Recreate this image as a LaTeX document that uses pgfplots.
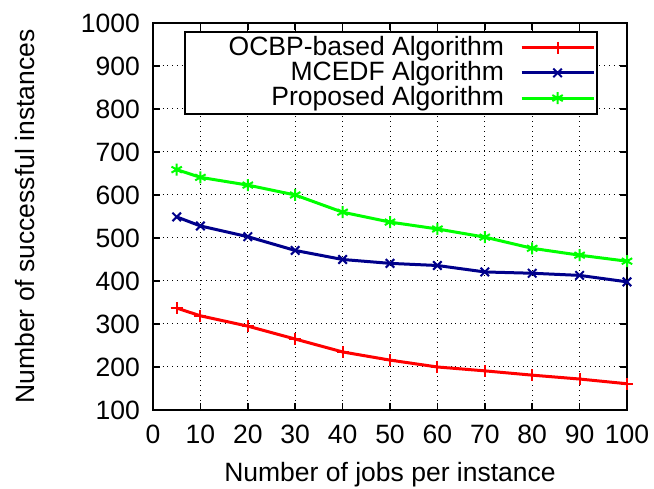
\documentclass[border=0pt]{standalone}
\usepackage{pgfplots}
\pgfplotsset{compat=1.18}
\usepackage{fontspec}
\setmainfont{Liberation Sans}
\definecolor{dblue}{RGB}{0,0,139}
\definecolor{lgreen}{RGB}{0,255,0}
\begin{document}
\fontsize{13.25}{15}\selectfont
\begin{tikzpicture}
\begin{axis}[
  scale only axis,
  width=237pt, height=193.5pt,
  xmin=0, xmax=100, ymin=100, ymax=1000,
  xtick={0,10,...,100}, ytick={100,200,...,1000},
  /pgf/number format/assume math mode=true,
  /pgf/number format/1000 sep={},
  tick label style={font=\fontsize{13.25}{15}\selectfont},
  label style={font=\fontsize{13.25}{15}\selectfont},
  axis line style={line width=1pt},
  tick style={line width=0.8pt, black},
  major tick length=3.5pt,
  tick pos=both, tick align=inside,
  grid=major,
  grid style={dotted, black, line width=0.5pt},
  xticklabel style={yshift=-3pt},
  yticklabel style={xshift=-2pt},
  xlabel={Number of jobs per instance},
  ylabel={Number of successful instances},
  xlabel style={yshift=0pt},
  ylabel style={yshift=14pt},
  legend cell align=right,
  legend plot pos=right,
  legend style={at={(0.939,0.979)}, anchor=north east, draw=black, line width=1pt,
    font=\fontsize{13.25}{15}\selectfont, row sep=-3pt, inner xsep=1pt, inner ysep=0pt},
  legend image code/.code={\path (0pt,0pt); \draw[mark repeat=2,mark phase=2,#1] plot coordinates {(6pt,0pt) (24pt,0pt) (42pt,0pt)};},
]
\addplot[red, line width=1.5pt, mark=+, mark size=3pt, mark options={line width=1pt}] coordinates {
(5,337) (10,319) (20,295) (30,265) (40,235) (50,216) (60,200) (70,191) (80,181) (90,172) (100,161)};
\addlegendentry{\hspace*{19pt}OCBP-based Algorithm}
\addplot[dblue, line width=1.5pt, mark=x, mark size=3pt, mark options={line width=1pt}] coordinates {
(5,549) (10,528) (20,503) (30,471) (40,450) (50,441) (60,436) (70,421) (80,418) (90,413) (100,398)};
\addlegendentry{MCEDF Algorithm}
\addplot[lgreen, line width=1.5pt, mark=asterisk, mark size=3pt, mark options={line width=1pt}] coordinates {
(5,659) (10,641) (20,623) (30,600) (40,560) (50,537) (60,521) (70,502) (80,476) (90,460) (100,446)};
\addlegendentry{Proposed Algorithm}
\end{axis}
\pgfresetboundingbox
\path ([shift={(-76.5pt,-39.5pt)}]current axis.south west) rectangle ([shift={(13.5pt,11.5pt)}]current axis.north east);
\end{tikzpicture}
\end{document}
